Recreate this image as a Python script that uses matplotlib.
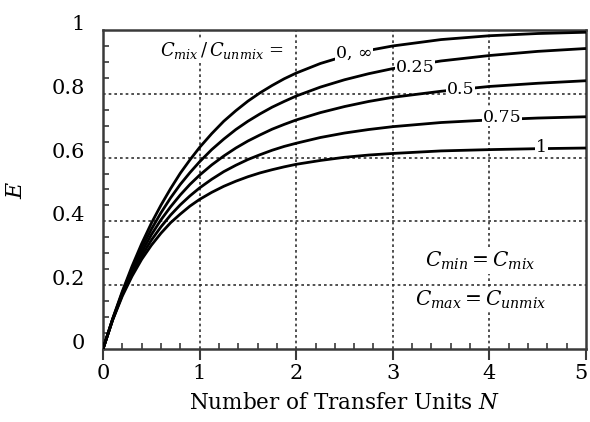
import matplotlib
matplotlib.use("Agg")
import matplotlib.pyplot as plt
import matplotlib.transforms as mtransforms
from matplotlib.ticker import MultipleLocator, FixedLocator

plt.rcParams['font.family'] = ['DejaVu Serif']
plt.rcParams['mathtext.fontset'] = 'dejavuserif'

# Number of transfer units (x) and effectiveness curves
ntu = [0, 0.1, 0.2, 0.3, 0.4, 0.5, 0.6, 0.7, 0.8, 0.9, 1.0, 1.125, 1.25,
       1.375, 1.5, 1.625, 1.75, 1.875, 2.0, 2.25, 2.5, 2.75, 3.0, 3.5,
       4.0, 4.5, 5.0]
e_0 = [0, .095, .181, .259, .330, .394, .451, .503, .551, .593, .632, .675,
       .714, .747, .777, .803, .826, .847, .865, .895, .918, .936, .950,
       .970, .982, .989, .993]
e_025 = [0, .094, .177, .251, .317, .375, .427, .474, .516, .553, .587, .625,
         .658, .688, .714, .737, .758, .776, .793, .821, .844, .863, .879,
         .903, .920, .933, .942]
e_05 = [0, .093, .173, .243, .304, .358, .405, .446, .483, .516, .545, .577,
        .605, .630, .652, .671, .689, .704, .718, .741, .760, .776, .789,
        .808, .823, .833, .841]
e_075 = [0, .092, .170, .236, .292, .341, .383, .420, .452, .480, .505, .532,
         .556, .576, .594, .609, .623, .635, .645, .663, .677, .688, .697,
         .710, .718, .724, .728]
e_1 = [0, .091, .166, .228, .281, .325, .363, .396, .423, .448, .469, .491,
       .510, .526, .540, .552, .562, .571, .579, .591, .601, .608, .613,
       .621, .625, .628, .630]

curves = [e_0, e_025, e_05, e_075, e_1]
curve_labels = ["0, \u221e", "0.25", "0.5", "0.75", "1"]
label_pos = [(2.60, 0.926), (3.23, 0.884), (3.70, 0.815), (4.13, 0.727), (4.54, 0.632)]

x_ticks = [0, 1, 2, 3, 4, 5]
x_ticklabels = ["0", "1", "2", "3", "4", "5"]
y_ticks = [0, 0.2, 0.4, 0.6, 0.8, 1.0]
y_ticklabels = ["0", "0.2", "0.4", "0.6", "0.8", "1"]

fig = plt.figure(figsize=(5.9, 4.22), dpi=100)
ax = fig.add_axes([0.1746, 0.1730, 0.9932 - 0.1746, 0.9289 - 0.1730])

spine_col = "#3a3a3a"
for s in ax.spines.values():
    s.set_color(spine_col)
    s.set_linewidth(1.8)

ax.set_xlim(0, 5)
ax.set_ylim(0, 1)

# grid lines at interior major ticks
for gx in x_ticks[1:-1]:
    ax.axvline(gx, color="#333333", lw=1.2, ls=(0, (1.6, 1.8)), zorder=1)
for gy in y_ticks[1:-1]:
    ax.axhline(gy, color="#333333", lw=1.2, ls=(0, (1.6, 1.8)), zorder=1)

for yv in curves:
    ax.plot(ntu, yv, color="black", lw=2.0, zorder=3, solid_capstyle="butt",
            solid_joinstyle="round")

for lab, (lx, ly) in zip(curve_labels, label_pos):
    ax.text(lx, ly, lab, fontsize=12.5, ha="center", va="center", zorder=5,
            bbox=dict(facecolor="white", edgecolor="none", pad=0.6))

ax.text(1.23, 0.937, r"$C_{mix}\,/\,C_{unmix}$ =", fontsize=13, ha="center",
        va="center", zorder=5,
        bbox=dict(facecolor="white", edgecolor="none", pad=1))
ax.text(3.91, 0.275, r"$C_{min} = C_{mix}$", fontsize=14.5, ha="center",
        va="center", zorder=5,
        bbox=dict(facecolor="white", edgecolor="none", pad=1))
ax.text(3.91, 0.155, r"$C_{max} = C_{unmix}$", fontsize=14.5, ha="center",
        va="center", zorder=5,
        bbox=dict(facecolor="white", edgecolor="none", pad=1))

ax.xaxis.set_major_locator(FixedLocator(x_ticks))
ax.set_xticklabels(x_ticklabels)
ax.yaxis.set_major_locator(FixedLocator(y_ticks))
ax.set_yticklabels(y_ticklabels)
ax.xaxis.set_minor_locator(MultipleLocator(0.2))
ax.yaxis.set_minor_locator(MultipleLocator(0.05))

ax.tick_params(axis="x", which="major", direction="out", length=8, width=1.5,
               color=spine_col, labelsize=15, pad=3)
ax.tick_params(axis="x", which="minor", direction="in", length=4.5, width=1.2,
               color=spine_col)
ax.tick_params(axis="y", which="major", direction="in", length=0, width=1.5,
               color=spine_col, labelsize=15, pad=13)
ax.tick_params(axis="y", which="minor", direction="in", length=4.5, width=1.2,
               color=spine_col)
for t in ax.get_yticklabels():
    t.set_verticalalignment("baseline")

# keep the last x tick label inside the figure edge
last = ax.get_xticklabels()[-1]
last.set_transform(last.get_transform() +
                   mtransforms.ScaledTranslation(-4 / 72, 0, fig.dpi_scale_trans))

ax.set_xlabel(r"Number of Transfer Units $\mathit{N}$", fontsize=15.5, labelpad=6)
ax.set_ylabel(r"$E$", fontsize=16, labelpad=18, rotation=90)

fig.savefig("out.png", dpi=100)
